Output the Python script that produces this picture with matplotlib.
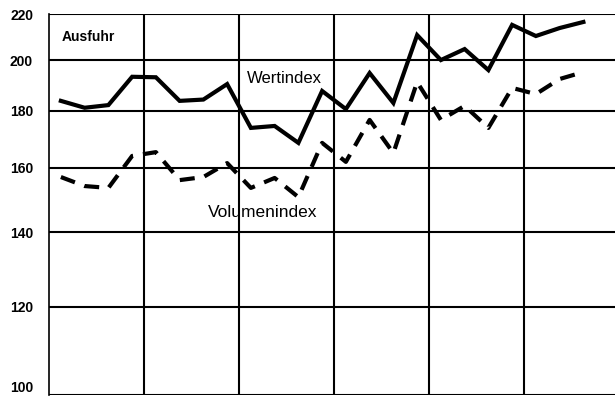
import numpy as np
import matplotlib.pyplot as plt

plt.rcParams['font.family'] = ['Liberation Sans', 'DejaVu Sans']

# quarterly index values, 6 years (last quarter not yet available)
quarters = np.arange(23) + 0.5
wertindex = [183.8, 181.2, 182.2, 193.2, 193.0, 183.8, 184.3, 190.3,
             173.8, 174.5, 168.5, 187.6, 180.7, 194.7, 183.0, 210.6,
             200.0, 204.6, 195.9, 215.1, 210.2, 213.7, 216.4]
volumenindex = [157.0, 154.1, 153.5, 164.0, 165.3, 156.0, 157.0, 161.6,
                153.5, 156.7, 150.6, 168.5, 162.0, 176.7, 165.0, 191.1,
                176.7, 181.9, 173.8, 188.8, 186.4, 192.3, 195.1]
yticks = [100, 120, 140, 160, 180, 200, 220]
year_edges = [4, 8, 12, 16, 20]

fig = plt.figure(figsize=(6.15, 4.0), dpi=100)
ax = fig.add_axes([49 / 615, 5 / 400, 1 - 49 / 615, 381 / 400])

ax.set_yscale('log')
ax.set_ylim(100, 220)
ax.set_xlim(0, (615 - 49) / 23.75)

for y in yticks:
    ax.axhline(y, color='black', lw=1.5, zorder=1)
for x in year_edges:
    ax.axvline(x, color='black', lw=1.5, zorder=1)

ax.plot(quarters, wertindex, color='black', lw=3, solid_joinstyle='miter', zorder=3)
ax.plot(quarters, volumenindex, color='black', lw=3,
        linestyle=(0, (3.6, 2.4)), zorder=3)

ax.set_yticks(yticks)
ax.set_yticklabels([str(v) for v in yticks], fontsize=10, fontweight='bold')
ax.yaxis.set_minor_locator(plt.NullLocator())
ax.set_xticks([])
ax.tick_params(axis='y', length=0, pad=11.5)
# bottom label sits just above the image edge
ax.get_yticklabels()[0].set_verticalalignment('bottom')

for side in ['top', 'right', 'bottom']:
    ax.spines[side].set_visible(False)
ax.spines['left'].set_linewidth(1.2)

ax.text(0.55, 209.8, 'Ausfuhr', fontsize=10, fontweight='bold', va='center', ha='left')
ax.text(8.34, 192.7, 'Wertindex', fontsize=12, va='center', ha='left')
ax.text(6.69, 146.0, 'Volumenindex', fontsize=12.5, va='center', ha='left')

fig.savefig('out.png', dpi=100)
